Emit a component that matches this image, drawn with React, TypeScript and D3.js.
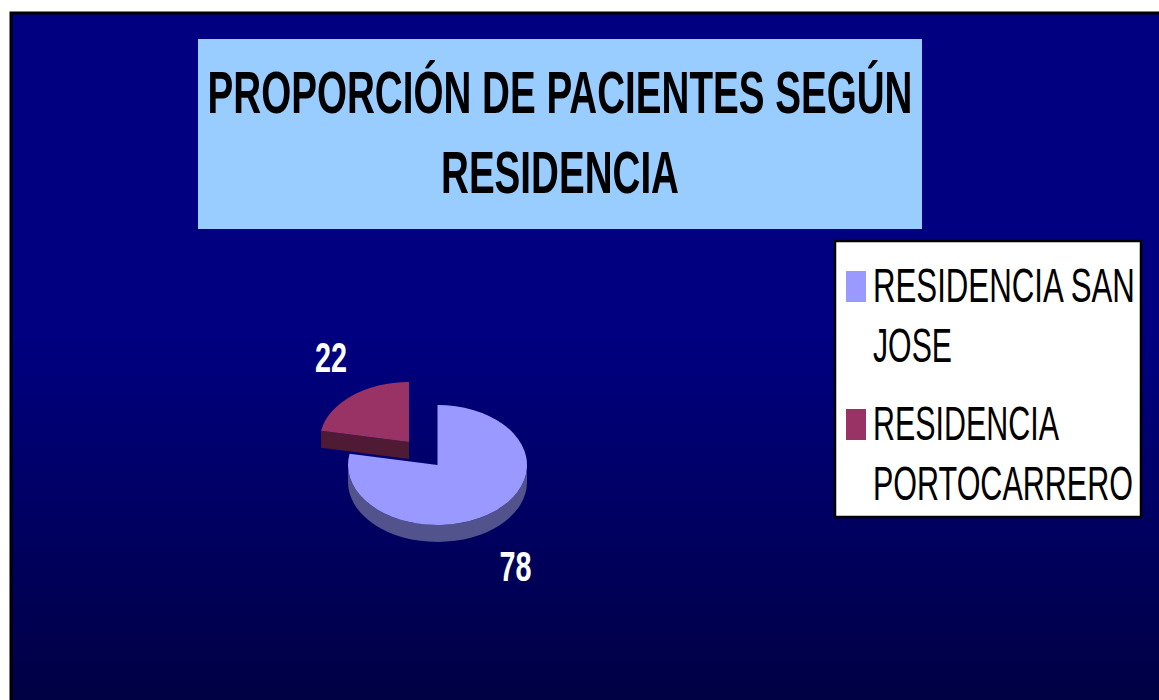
import React, { useLayoutEffect, useRef, useState } from "react";
import * as d3 from "d3";

const categories = ["RESIDENCIA SAN JOSE", "RESIDENCIA PORTOCARRERO"];
const values = [78, 22];
const legendLines = [["RESIDENCIA SAN", "JOSE"], ["RESIDENCIA", "PORTOCARRERO"]];
const legendLineWidths = [[262, 79], [186, 260]];
const titleLines = ["PROPORCIÓN DE PACIENTES SEGÚN", "RESIDENCIA"];
const titleLineWidths = [705, 238];
const topColors = ["#9999FF", "#993366"];
const sideColors = ["#52528C", "#4F1A33"];
const explode = [0, 0.5];

const W = 1159, H = 700;
const cx = 437.5, cy = 465, rx = 89.5, ry = 60, depth = 17;

function pt(x0: number, y0: number, a: number, dy = 0): [number, number] {
  return [x0 + rx * Math.sin(a), y0 - ry * Math.cos(a) + dy];
}

type STProps = {
  x: number; y: number; width: number; anchor: "start" | "middle";
  fontSize: number; bold?: boolean; fill: string; baseline?: string; children: string;
};

function ScaledText({ x, y, width, anchor, fontSize, bold, fill, baseline, children }: STProps) {
  const ref = useRef<SVGTextElement>(null);
  const [s, setS] = useState(1);
  useLayoutEffect(() => {
    if (ref.current) {
      const len = ref.current.getComputedTextLength();
      if (len > 0) setS(width / len);
    }
  }, [width, children]);
  return (
    <g transform={`translate(${x},${y}) scale(${s},1)`}>
      <text ref={ref} x={0} y={0} textAnchor={anchor} fontSize={fontSize}
        fontWeight={bold ? "bold" : "normal"} fill={fill} dominantBaseline={baseline as any}>
        {children}
      </text>
    </g>
  );
}

export default function App() {
  const pie = d3.pie<number>().sort(null).startAngle(0).endAngle(2 * Math.PI);
  const arcs = pie(values);

  const slices = arcs.map((a, i) => {
    const mid = (a.startAngle + a.endAngle) / 2;
    const ox = cx + Math.sin(mid) * rx * explode[i];
    const oy = cy - Math.cos(mid) * ry * explode[i];
    const a0 = a.startAngle, a1 = a.endAngle;
    const p0 = pt(ox, oy, a0), p1 = pt(ox, oy, a1);
    const large = a1 - a0 > Math.PI ? 1 : 0;
    const top = `M${ox},${oy}L${p0[0]},${p0[1]}A${rx},${ry} 0 ${large} 1 ${p1[0]},${p1[1]}Z`;
    const sides: string[] = [];
    const s = Math.max(a0, Math.PI / 2), e = Math.min(a1, 1.5 * Math.PI);
    if (e > s) {
      const q0 = pt(ox, oy, s), q1 = pt(ox, oy, e);
      const q1d = pt(ox, oy, e, depth), q0d = pt(ox, oy, s, depth);
      sides.push(`M${q0[0]},${q0[1]}A${rx},${ry} 0 0 1 ${q1[0]},${q1[1]}L${q1d[0]},${q1d[1]}A${rx},${ry} 0 0 0 ${q0d[0]},${q0d[1]}Z`);
    }
    if (Math.sin(a0) < -1e-6) {
      sides.push(`M${ox},${oy}L${p0[0]},${p0[1]}L${p0[0]},${p0[1] + depth}L${ox},${oy + depth}Z`);
    }
    if (Math.sin(a1) > 1e-6) {
      sides.push(`M${ox},${oy}L${p1[0]},${p1[1]}L${p1[0]},${p1[1] + depth}L${ox},${oy + depth}Z`);
    }
    const lx = ox + Math.sin(mid) * (rx + 33);
    const dirY = -Math.cos(mid);
    const ly = oy + dirY * (ry + 50) + (dirY > 0 ? depth : 0);
    return { i, top, sides, lx, ly };
  });

  const legendRowY = [302, 440];

  return (
    <svg width={W} height={H} style={{ position: "absolute", left: 0, top: 0 }}
      fontFamily="'Liberation Sans', Arial, sans-serif">
      <defs>
        <linearGradient id="bg" x1="0" y1="0" x2="0" y2="1">
          <stop offset="0" stopColor="#000080" />
          <stop offset="0.45" stopColor="#000080" />
          <stop offset="1" stopColor="#00003E" />
        </linearGradient>
      </defs>
      <rect x={0} y={0} width={W} height={H} fill="#ffffff" />
      <rect x={11} y={13} width={W + 20} height={H + 20} fill="url(#bg)" stroke="#000" strokeWidth={3} />
      <rect x={198} y={39} width={724} height={190} fill="#99CCFF" />
      {titleLines.map((t, i) => (
        <ScaledText key={i} x={560} y={i === 0 ? 113 : 193} width={titleLineWidths[i]} anchor="middle"
          fontSize={60} bold fill="#000">{t}</ScaledText>
      ))}
      {slices.map((s) => (
        <g key={s.i}>
          {s.sides.map((d, k) => <path key={k} d={d} fill={sideColors[s.i]} />)}
          <path d={s.top} fill={topColors[s.i]} />
        </g>
      ))}
      {slices.map((s) => (
        <ScaledText key={"l" + s.i} x={s.lx} y={s.ly} width={32} anchor="middle" baseline="central"
          fontSize={42} bold fill="#fff">{String(values[s.i])}</ScaledText>
      ))}
      <rect x={835} y={241} width={306} height={276} fill="#fff" stroke="#000" strokeWidth={2.5} />
      {categories.map((c, i) => (
        <g key={c}>
          <rect x={846} y={legendRowY[i] - 31} width={20} height={31} fill={topColors[i]} />
          {legendLines[i].map((ln, k) => (
            <ScaledText key={k} x={873} y={legendRowY[i] + k * 60} width={legendLineWidths[i][k]}
              anchor="start" fontSize={48} fill="#000">{ln}</ScaledText>
          ))}
        </g>
      ))}
    </svg>
  );
}
